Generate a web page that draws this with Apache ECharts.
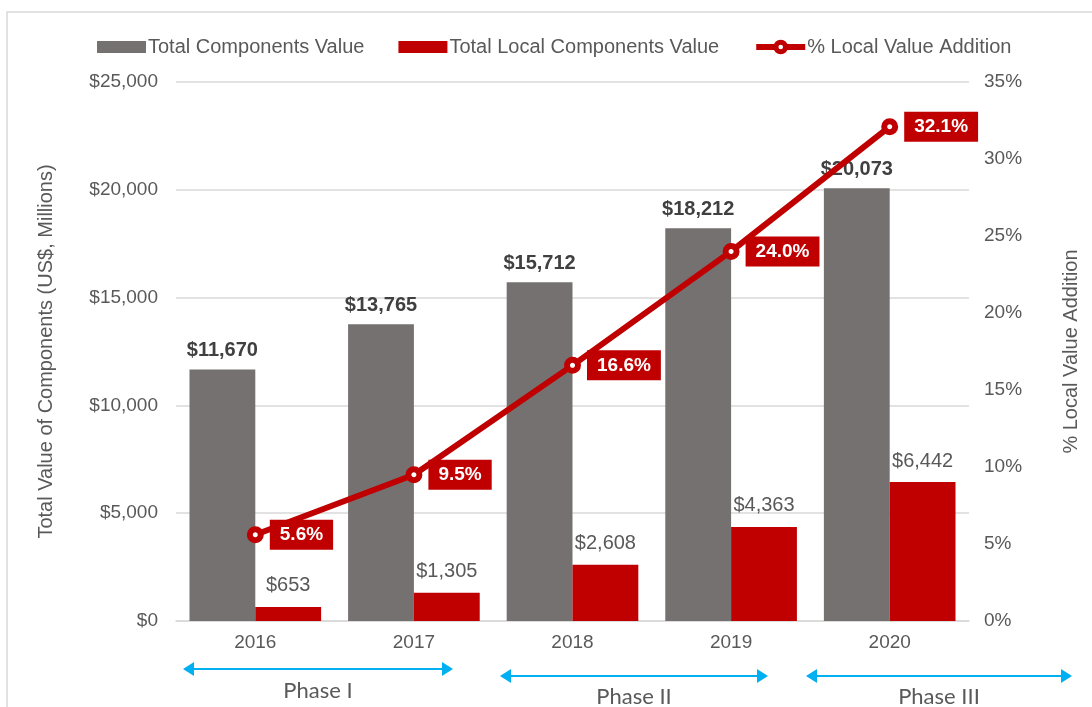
<!DOCTYPE html>
<html>
<head>
<meta charset="utf-8">
<script src="https://cdn.jsdelivr.net/npm/echarts@6/dist/echarts.min.js"></script>
<style>
  html, body { margin: 0; padding: 0; background: #fff; }
  #chart { width: 1092px; height: 707px; }
</style>
</head>
<body>
<div id="chart"></div>
<script>
// Years on the category axis
const years = ['2016', '2017', '2018', '2019', '2020'];
// Total value of components, US$ millions
const totalComponents = [11670, 13765, 15712, 18212, 20073];
// Locally sourced components, US$ millions
const localComponents = [653, 1305, 2608, 4363, 6442];
// Share of local value addition, percent
const localShare = [5.6, 9.5, 16.6, 24.0, 32.1];
// Program phases shown under the axis
const phases = ['Phase I', 'Phase II', 'Phase III'];

const GRAY = '#767171';
const RED = '#C00000';
const BLUE = '#00B0F0';
const TEXT = '#595959';
const FONT = '"Liberation Sans", Arial, sans-serif';

const money = v => '$' + v.toLocaleString('en-US');

const chart = echarts.init(document.getElementById('chart'));

// Double-headed arrow with a caption beneath it
function phaseArrow(x1, x2, y, label, labelY) {
  const head = 9;
  return [
    { type: 'line', shape: { x1: x1 + head, y1: y, x2: x2 - head, y2: y },
      style: { stroke: BLUE, lineWidth: 2 } },
    { type: 'polygon', shape: { points: [[x1, y], [x1 + head + 2, y - 7], [x1 + head + 2, y + 7]] },
      style: { fill: BLUE } },
    { type: 'polygon', shape: { points: [[x2, y], [x2 - head - 2, y - 7], [x2 - head - 2, y + 7]] },
      style: { fill: BLUE } },
    { type: 'text', x: (x1 + x2) / 2, y: labelY,
      style: { text: label, fill: TEXT, font: '22px Lato, "DejaVu Sans", sans-serif',
               align: 'center', verticalAlign: 'middle' } }
  ];
}

chart.setOption({
  animation: false,
  textStyle: { fontFamily: FONT },
  legend: {
    top: 37,
    left: 97,
    padding: 0,
    itemWidth: 49,
    itemHeight: 12,
    itemGap: 34,
    data: [
      { name: 'Total Components Value', icon: 'rect' },
      { name: 'Total Local Components Value', icon: 'rect' },
      { name: '% Local Value Addition',
        lineStyle: { width: 6 },
        itemStyle: { borderWidth: 5 } }
    ],
    textStyle: { fontSize: 20, color: TEXT, fontFamily: FONT, padding: [0, 0, 0, -3] }
  },
  grid: { left: 176, right: 123, top: 82, bottom: 86 },
  xAxis: {
    type: 'category',
    data: years,
    axisLine: { lineStyle: { color: '#d9d9d9', width: 1.5 } },
    axisTick: { show: false },
    axisLabel: { color: TEXT, fontSize: 19, margin: 12 }
  },
  yAxis: [
    {
      type: 'value',
      min: 0, max: 25000, interval: 5000,
      name: 'Total Value of Components (US$, Millions)',
      nameLocation: 'middle',
      nameGap: 120,
      nameTextStyle: { color: TEXT, fontSize: 20 },
      axisLabel: { color: TEXT, fontSize: 19, margin: 18, formatter: v => money(v) },
      axisLine: { show: false },
      axisTick: { show: false },
      splitLine: { lineStyle: { color: '#d9d9d9', width: 1.5 } }
    },
    {
      type: 'value',
      min: 0, max: 35, interval: 5,
      name: '% Local Value Addition',
      nameLocation: 'middle',
      nameGap: 92,
      nameRotate: 90,
      nameTextStyle: { color: TEXT, fontSize: 20 },
      axisLabel: { color: TEXT, fontSize: 19, margin: 15, formatter: '{value}%' },
      axisLine: { show: false },
      axisTick: { show: false },
      splitLine: { show: false }
    }
  ],
  series: [
    {
      name: 'Total Components Value',
      type: 'bar',
      data: totalComponents,
      itemStyle: { color: GRAY },
      barGap: '0%',
      barCategoryGap: '17%',
      label: {
        show: true, position: 'top', distance: 9,
        color: '#404040', fontSize: 20, fontWeight: 'bold',
        formatter: p => money(p.value)
      }
    },
    {
      name: 'Total Local Components Value',
      type: 'bar',
      data: localComponents,
      itemStyle: { color: RED },
      label: {
        show: true, position: 'top', distance: 11,
        color: TEXT, fontSize: 20,
        formatter: p => money(p.value)
      }
    },
    {
      name: '% Local Value Addition',
      type: 'line',
      yAxisIndex: 1,
      data: localShare,
      lineStyle: { color: RED, width: 6 },
      itemStyle: { color: '#fff', borderColor: RED, borderWidth: 6 },
      symbol: 'circle',
      symbolSize: 11,
      z: 5,
      label: {
        show: true, position: 'right', distance: 6,
        backgroundColor: RED, color: '#fff',
        fontSize: 19, fontWeight: 'bold',
        padding: [6, 10, 5, 10],
        formatter: p => p.value.toFixed(1) + '%'
      }
    }
  ],
  graphic: [
    { type: 'rect', shape: { x: 7, y: 12, width: 1200, height: 800 },
      style: { fill: 'none', stroke: '#d9d9d9', lineWidth: 1.5 }, silent: true },
    ...phaseArrow(183, 453, 669, phases[0], 691),
    ...phaseArrow(500, 768, 676, phases[1], 697),
    ...phaseArrow(806, 1072, 676, phases[2], 697)
  ]
});
</script>
</body>
</html>
